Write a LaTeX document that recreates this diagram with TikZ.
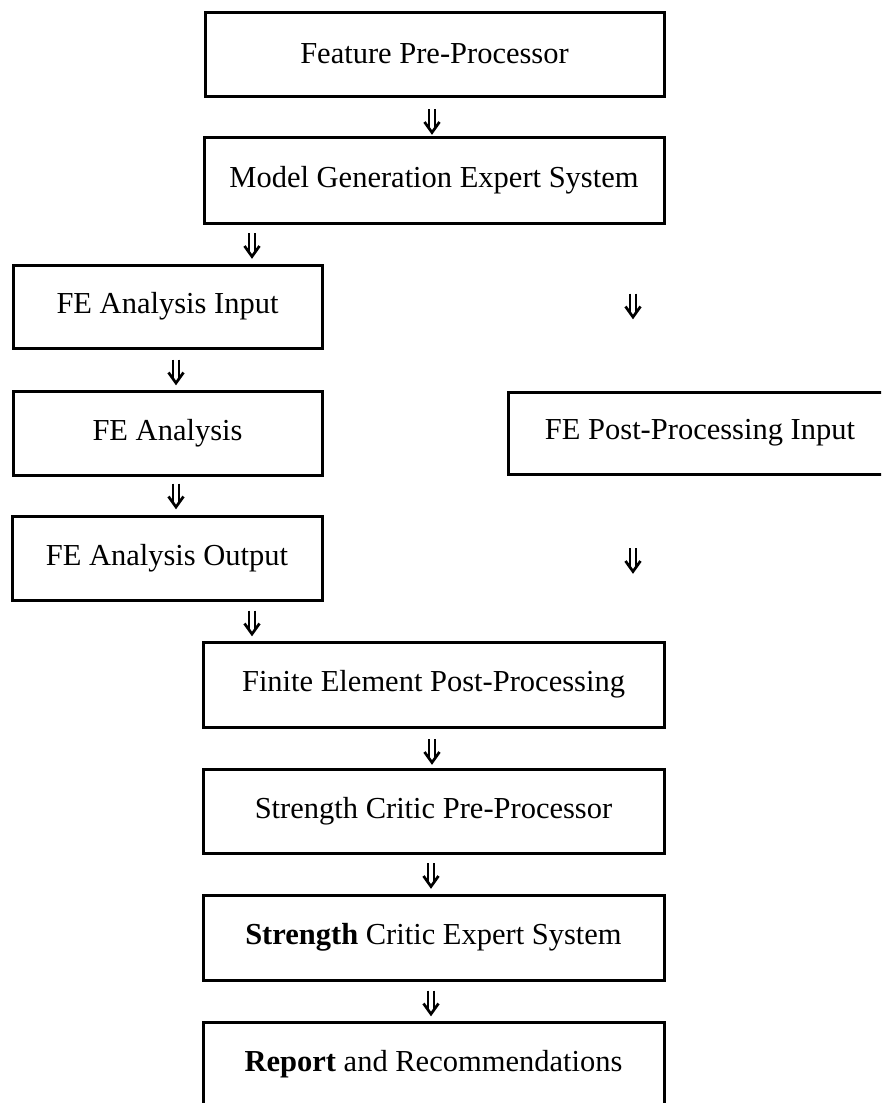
\documentclass[tikz,border=0pt]{standalone}
\usepackage{fontspec}
\setmainfont{Liberation Serif}
\begin{document}
\begin{tikzpicture}[x=1pt,y=-1pt,
  box/.style={draw, line width=3pt, inner sep=0pt, align=center,
    font=\fontsize{30.5}{36}\selectfont},
  darr/.style={minimum width=22pt, minimum height=30pt, inner sep=0pt,
    path picture={
      \draw[line width=2.7pt, shift={(path picture bounding box.center)}]
        (-3pt,12pt) -- (-3pt,-6.5pt) (3pt,12pt) -- (3pt,-6.5pt);
      \draw[line width=2.7pt, line join=miter, shift={(path picture bounding box.center)}]
        (-7.5pt,-1pt) -- (0pt,-11.5pt) -- (7.5pt,-1pt);
    }}]
\useasboundingbox (0,0) rectangle (881,1103);
\clip (0,0) rectangle (881,1103);
% boxes
\node[box, minimum width=459pt, minimum height=84pt] (fpp) at (434.5,54) {Feature Pre-Processor};
\node[box, minimum width=460pt, minimum height=86pt] (mges) at (434,180) {Model Generation Expert System};
\node[box, minimum width=309pt, minimum height=83pt] (fein) at (167.5,306.5) {FE Analysis Input};
\node[box, minimum width=309pt, minimum height=84pt] (fea) at (167.5,433) {FE Analysis};
\node[box, minimum width=310pt, minimum height=84pt] (feout) at (167,558) {FE Analysis Output};
\node[box, minimum width=384pt, minimum height=82pt] (fepp) at (700,433) {FE Post-Processing Input};
\node[box, minimum width=461pt, minimum height=85pt] (fepost) at (433.5,684.5) {Finite Element Post-Processing};
\node[box, minimum width=461pt, minimum height=84pt] (scpp) at (433.5,811) {Strength Critic Pre-Processor};
\node[box, minimum width=461pt, minimum height=85pt] (sces) at (433.5,937.5) {\textbf{Strength} Critic Expert System};
\node[box, minimum width=461pt, minimum height=85pt] (rep) at (433.5,1064.5) {\textbf{Report} and Recommendations};
% arrows
\node[darr] (a1) at (432,121) {};
\node[darr] (a2) at (252,245) {};
\node[darr] (a3) at (176,371.5) {};
\node[darr] (a4) at (176,495.5) {};
\node[darr] (a5) at (252,622.5) {};
\node[darr] (a6) at (432,751) {};
\node[darr] (a7) at (431,875) {};
\node[darr] (a8) at (431,1002.5) {};
\node[darr] (r1) at (633,305.5) {};
\node[darr] (r2) at (633,560) {};
\end{tikzpicture}
\end{document}
